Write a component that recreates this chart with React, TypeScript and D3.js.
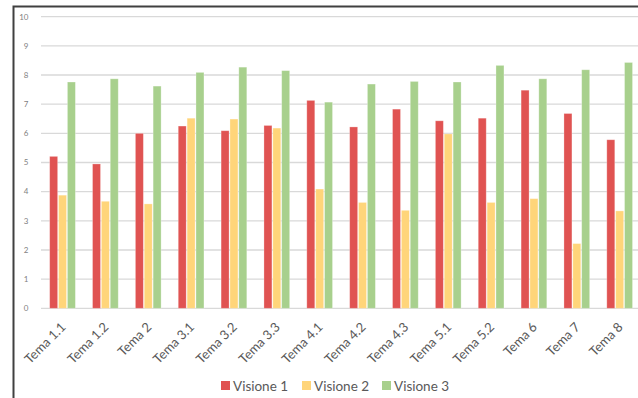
import React from "react";
import * as d3 from "d3";

const categories = [
  "Tema 1.1", "Tema 1.2", "Tema 2", "Tema 3.1", "Tema 3.2", "Tema 3.3", "Tema 4.1",
  "Tema 4.2", "Tema 4.3", "Tema 5.1", "Tema 5.2", "Tema 6", "Tema 7", "Tema 8",
];
const seriesNames = ["Visione 1", "Visione 2", "Visione 3"];
const visione1 = [5.21, 4.95, 6.0, 6.25, 6.09, 6.27, 7.13, 6.22, 6.83, 6.43, 6.52, 7.48, 6.68, 5.78];
const visione2 = [3.88, 3.67, 3.58, 6.52, 6.49, 6.18, 4.09, 3.63, 3.36, 5.98, 3.63, 3.76, 2.22, 3.34];
const visione3 = [7.76, 7.87, 7.62, 8.09, 8.27, 8.15, 7.07, 7.69, 7.78, 7.76, 8.33, 7.87, 8.18, 8.43];
const yTicks = [0, 1, 2, 3, 4, 5, 6, 7, 8, 9, 10];
const colors = ["#E05352", "#FFD57A", "#A8D08D"];

const W = 638;
const H = 398;
const FONT = "Lato, 'Open Sans', sans-serif";

export default function App() {
  const series = [visione1, visione2, visione3];
  const y = d3.scaleLinear().domain([0, 10]).range([308.3, 16.7]);
  const x = d3
    .scaleBand<string>()
    .domain(categories)
    .range([41.1, 641.1])
    .paddingInner(0.4)
    .paddingOuter(0.2);
  const xs = d3
    .scaleBand<string>()
    .domain(seriesNames)
    .range([0, x.bandwidth()])
    .paddingInner(0.1);

  const legendX = [221, 302, 382];

  return (
    <svg
      width={W}
      height={H}
      style={{ position: "absolute", left: 0, top: 0, background: "#fff" }}
    >
      {/* gridlines */}
      {yTicks.map((t) => (
        <line
          key={"g" + t}
          x1={41}
          x2={W}
          y1={y(t)}
          y2={y(t)}
          stroke="#D9D9D9"
          strokeWidth={1.3}
        />
      ))}
      {/* y tick labels */}
      {yTicks.map((t) => (
        <text
          key={"t" + t}
          x={28.5}
          y={y(t)}
          dy="0.35em"
          textAnchor="end"
          fontFamily={FONT}
          fontSize={8}
          fill="#7F7F7F"
        >
          {t}
        </text>
      ))}
      {/* bars */}
      {categories.map((c, i) => (
        <g key={c} transform={`translate(${x(c)},0)`}>
          {series.map((s, k) => (
            <rect
              key={k}
              x={xs(seriesNames[k])}
              y={y(s[i])}
              width={xs.bandwidth()}
              height={y(0) - y(s[i])}
              fill={colors[k]}
              stroke="rgba(255,255,255,0.35)"
              strokeWidth={0.8}
            />
          ))}
        </g>
      ))}
      {/* category labels */}
      {categories.map((c) => (
        <text
          key={"l" + c}
          transform={`translate(${(x(c) as number) + x.bandwidth() / 2 + 4},328) rotate(-45)`}
          textAnchor="end"
          fontFamily={FONT}
          fontSize={13}
          fill="#595959"
        >
          {c}
        </text>
      ))}
      {/* legend */}
      {seriesNames.map((n, k) => (
        <g key={n} transform={`translate(${legendX[k]},381)`}>
          <rect x={0} y={0} width={9} height={9} fill={colors[k]} />
          <text x={12} y={9.5} fontFamily={FONT} fontSize={13.5} fill="#595959">
            {n}
          </text>
        </g>
      ))}
      {/* chart frame */}
      <rect
        x={13.5}
        y={6.5}
        width={W}
        height={H}
        fill="none"
        stroke="#404040"
        strokeWidth={2}
      />
    </svg>
  );
}
